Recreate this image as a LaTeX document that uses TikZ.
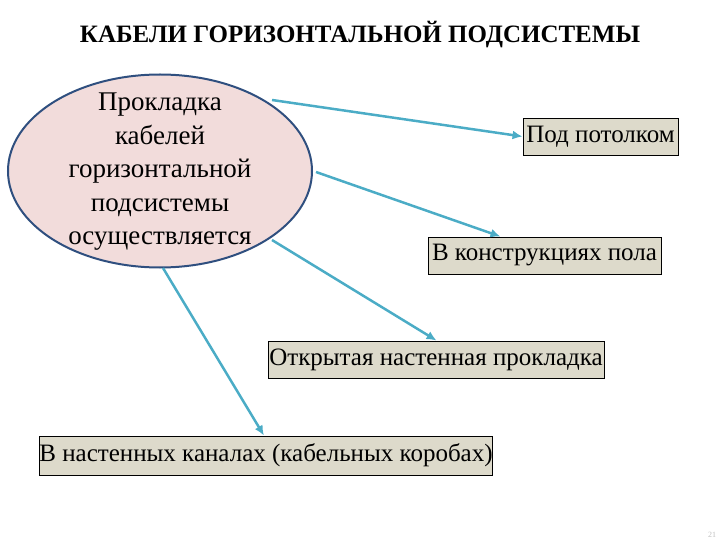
\documentclass[tikz,border=0pt]{standalone}
\usepackage{fontspec}
\setmainfont{Liberation Serif}
\usetikzlibrary{shapes.geometric,arrows.meta}
\definecolor{ellfill}{HTML}{F2DCDB}
\definecolor{elldraw}{HTML}{2F4F7F}
\definecolor{boxfill}{HTML}{DDDACB}
\definecolor{arr}{HTML}{4BACC6}
\begin{document}
\begin{tikzpicture}[x=1pt,y=-1pt,
  box/.style={draw=black,fill=boxfill,line width=0.9pt,inner sep=0pt,font=\fontsize{25}{30}\selectfont},
  conn/.style={draw=arr,line width=2.5pt,-{Latex[length=10pt,width=9pt]}}]
\useasboundingbox (0,0) rectangle (720,540);
\node[font=\bfseries\fontsize{25}{30}\selectfont] (t) at (360,35) {КАБЕЛИ ГОРИЗОНТАЛЬНОЙ ПОДСИСТЕМЫ};
\node[draw=elldraw,fill=ellfill,line width=2pt,ellipse,minimum width=304,minimum height=193,inner sep=0pt] (e) at (160,171) {};
\node[align=center,font=\fontsize{27}{33.5}\selectfont] (et) at (160,172) {Прокладка\\кабелей\\горизонтальной\\подсистемы\\осуществляется};
\node[box,minimum width=155,minimum height=37] (b1) at (600.5,136.5) {Под потолком};
\node[box,minimum width=233,minimum height=37] (b2) at (544.5,255.5) {В конструкциях пола};
\node[box,minimum width=336,minimum height=37] (b3) at (436,359.5) {Открытая настенная прокладка};
\node[box,minimum width=452,minimum height=39] (b4) at (266,455.5) {В настенных каналах (кабельных коробах)};
\coordinate (s1) at (272,100);
\coordinate (s2) at (316,172);
\coordinate (s3) at (272,240);
\coordinate (s4) at (163,268);
\draw[conn] (s1) -- (b1.west);
\draw[conn] (s2) -- ([xshift=-44]b2.north);
\draw[conn] (s3) -- ([xshift=169]b3.north west);
\draw[conn] (s4) -- ([xshift=225]b4.north west);
\node[text=gray!50,font=\fontsize{8}{9}\selectfont] (pg) at (712,535) {21};
\end{tikzpicture}
\end{document}
